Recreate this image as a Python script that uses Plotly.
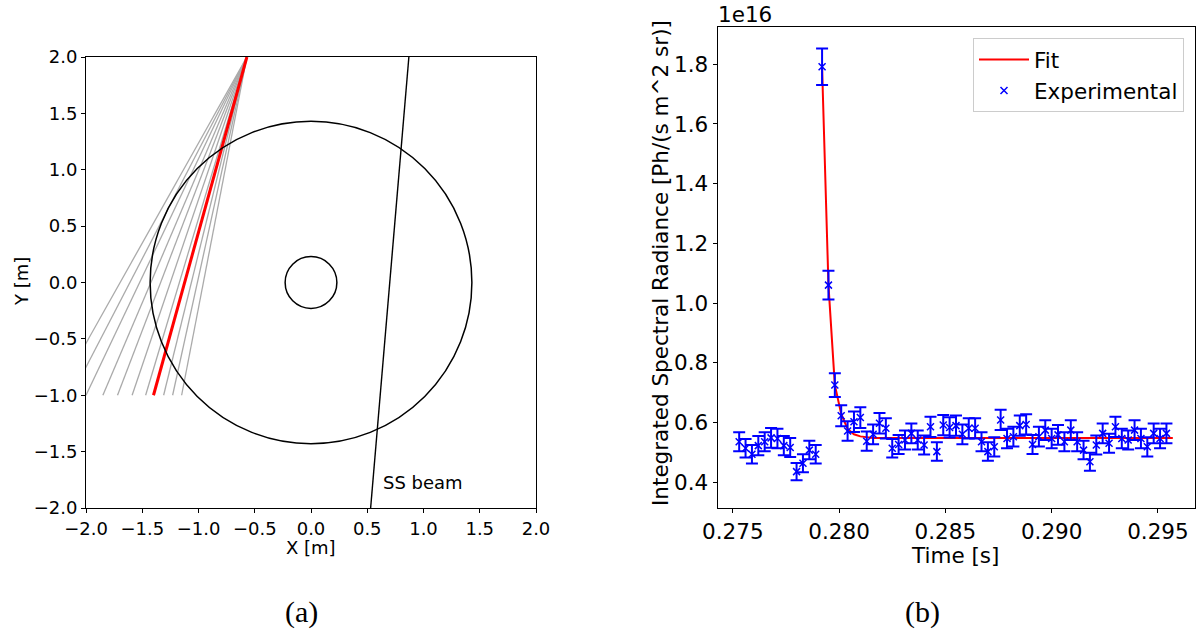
import plotly.graph_objects as go

W, H = 1198, 632

# ---------------- Left panel (a) data ----------------
fan_origin = (-0.57, 2.0)
gray_end_x = [-2.26, -2.13, -2.0, -1.85, -1.72, -1.59, -1.47, -1.31, -1.23, -1.15]
red_end_x = [-1.40]
fan_end_y = -1.0
circle_radii = [1.43, 0.23]
beam_x = [0.53, 0.87]
beam_y = [-2.0, 2.0]
beam_label = "SS beam"

# ---------------- Right panel (b) data (units of 1e16) ----------------
time_s = [0.2753, 0.2756, 0.2759, 0.2762, 0.2765, 0.2768, 0.2771, 0.2774, 0.2777, 0.2780,
          0.2783, 0.2786, 0.2789, 0.2792, 0.2795, 0.2798, 0.2801, 0.2804, 0.2807, 0.2810,
          0.2813, 0.2816, 0.2819, 0.2822, 0.2825, 0.2828, 0.2831, 0.2834, 0.2837, 0.2840,
          0.2843, 0.2846, 0.2849, 0.2852, 0.2855, 0.2858, 0.2861, 0.2864, 0.2867, 0.2870,
          0.2873, 0.2876, 0.2879, 0.2882, 0.2885, 0.2888, 0.2891, 0.2894, 0.2897, 0.2900,
          0.2903, 0.2906, 0.2909, 0.2912, 0.2915, 0.2918, 0.2921, 0.2924, 0.2927, 0.2930,
          0.2933, 0.2936, 0.2939, 0.2942, 0.2945, 0.2948, 0.2951, 0.2954]
radiance = [0.535, 0.513, 0.493, 0.522, 0.535, 0.548, 0.546, 0.522, 0.516, 0.435,
            0.463, 0.507, 0.493, 1.792, 1.060, 0.725, 0.622, 0.571, 0.602, 0.616,
            0.537, 0.560, 0.597, 0.580, 0.513, 0.526, 0.541, 0.563, 0.541, 0.524,
            0.585, 0.502, 0.591, 0.583, 0.589, 0.560, 0.580, 0.580, 0.535, 0.502,
            0.518, 0.608, 0.546, 0.552, 0.589, 0.593, 0.526, 0.552, 0.574, 0.546,
            0.558, 0.535, 0.574, 0.535, 0.507, 0.468, 0.524, 0.563, 0.530, 0.585,
            0.546, 0.541, 0.574, 0.546, 0.518, 0.563, 0.546, 0.563]
radiance_err = [0.032, 0.031, 0.031, 0.032, 0.032, 0.033, 0.033, 0.032, 0.032, 0.029,
                0.030, 0.031, 0.031, 0.061, 0.048, 0.040, 0.035, 0.033, 0.034, 0.035,
                0.032, 0.033, 0.034, 0.034, 0.031, 0.032, 0.032, 0.033, 0.032, 0.032,
                0.034, 0.031, 0.034, 0.034, 0.034, 0.033, 0.034, 0.034, 0.032, 0.031,
                0.032, 0.034, 0.033, 0.033, 0.034, 0.034, 0.032, 0.033, 0.033, 0.033,
                0.033, 0.032, 0.033, 0.032, 0.031, 0.030, 0.032, 0.033, 0.032, 0.034,
                0.033, 0.032, 0.033, 0.033, 0.032, 0.033, 0.033, 0.033]
fit_time = [0.2792, 0.2795, 0.2798, 0.2801, 0.2804, 0.2807, 0.2810, 0.2813, 0.2816, 0.2957]
fit_vals = [1.790, 1.060, 0.725, 0.628, 0.578, 0.560, 0.553, 0.550, 0.548, 0.548]

FONT = "DejaVu Sans"
LFS = 18     # left panel font size
RFS = 21.5   # right panel font size


def px(x):
    return x / W


def py(y):
    return 1 - y / H


fig = go.Figure()

# gray fan
for xe in gray_end_x:
    fig.add_trace(go.Scatter(x=[fan_origin[0], xe], y=[fan_origin[1], fan_end_y], mode="lines",
                             line=dict(color="#aaaaaa", width=1.3), showlegend=False,
                             hoverinfo="skip", xaxis="x", yaxis="y"))
for xe in red_end_x:
    fig.add_trace(go.Scatter(x=[fan_origin[0], xe], y=[fan_origin[1], fan_end_y], mode="lines",
                             line=dict(color="#ff0000", width=3), showlegend=False,
                             hoverinfo="skip", xaxis="x", yaxis="y"))
# SS beam
fig.add_trace(go.Scatter(x=beam_x, y=beam_y, mode="lines", line=dict(color="black", width=1.4),
                         showlegend=False, hoverinfo="skip", xaxis="x", yaxis="y"))

# right panel
fig.add_trace(go.Scatter(x=fit_time, y=fit_vals, mode="lines", name="Fit",
                         line=dict(color="#ff0000", width=2), xaxis="x2", yaxis="y2"))
fig.add_trace(go.Scatter(x=time_s, y=radiance, mode="markers", name="Experimental",
                         marker=dict(symbol="x-thin", size=7, color="#0000ff",
                                     line=dict(color="#0000ff", width=1.5)),
                         error_y=dict(type="data", array=radiance_err, visible=True,
                                      color="#0000ff", thickness=2, width=6),
                         xaxis="x2", yaxis="y2"))

shapes = []
for r in circle_radii:
    shapes.append(dict(type="circle", xref="x", yref="y", x0=-r, x1=r, y0=-r, y1=r,
                       line=dict(color="black", width=1.5)))

axis_common = dict(showline=True, linecolor="black", linewidth=1, mirror=True,
                   ticks="outside", ticklen=4, tickcolor="black", showgrid=False,
                   zeroline=False, automargin=False)


def note(text, x, y, size, angle=0, xa="center", family=FONT):
    return dict(text=text, x=px(x), y=py(y), xref="paper", yref="paper", xanchor=xa,
                yanchor="middle", showarrow=False, textangle=angle,
                font=dict(size=size, family=family))


fig.update_layout(
    width=W, height=H, margin=dict(l=0, r=0, t=0, b=0, autoexpand=False),
    paper_bgcolor="white", plot_bgcolor="white",
    font=dict(family=FONT, color="black"),
    shapes=shapes,
    xaxis=dict(domain=[px(86), px(536)], range=[-2, 2], dtick=0.5, tick0=0, tickformat=".1f",
               tickfont=dict(size=LFS), anchor="y", **axis_common),
    yaxis=dict(domain=[py(508), py(57)], range=[-2, 2], dtick=0.5, tick0=0, tickformat=".1f",
               tickfont=dict(size=LFS), anchor="x", **axis_common),
    xaxis2=dict(domain=[px(717.5), px(1194.5)], range=[0.27428, 0.29672], dtick=0.005,
                tick0=0.275, tickformat=".3f", tickfont=dict(size=RFS), anchor="y2", **axis_common),
    yaxis2=dict(domain=[py(508), py(27.3)], range=[0.313, 1.924], dtick=0.2, tick0=0,
                tickformat=".1f", tickfont=dict(size=RFS), anchor="x2", **axis_common),
    legend=dict(x=px(1184), y=py(38), xanchor="right", yanchor="top",
                bgcolor="white", bordercolor="#cccccc", borderwidth=1,
                font=dict(size=RFS, family=FONT), itemwidth=50, tracegroupgap=2),
    annotations=[
        dict(text=beam_label, x=0.62, y=-1.77, xref="x", yref="y", xanchor="left",
             yanchor="middle", showarrow=False, font=dict(size=LFS)),
        note("X [m]", 311, 547, LFS),
        note("Y [m]", 22, 282, LFS, angle=-90),
        note("Time [s]", 955, 555, RFS),
        note("Integrated Spectral Radiance [Ph/(s m^2 sr)]", 660, 263, RFS, angle=-90),
        note("1e16", 716, 14, RFS, xa="left"),
        note("(a)", 301, 612, 30, family="Liberation Serif"),
        note("(b)", 922, 612, 30, family="Liberation Serif"),
    ],
)

fig.write_html("out.html")
